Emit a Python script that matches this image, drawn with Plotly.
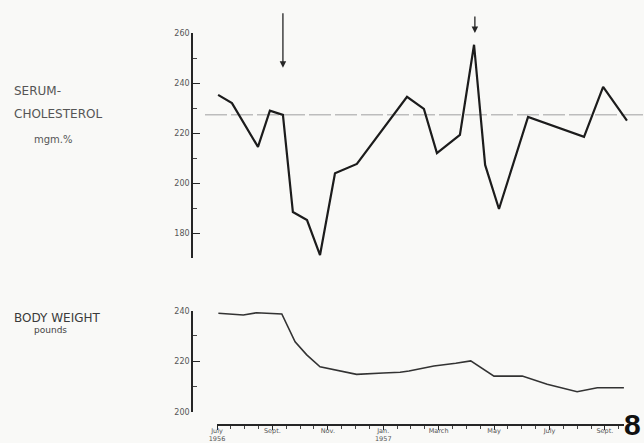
import plotly.graph_objects as go

# ---- data (x = months since start of July 1956) ----
chol_month = [0.04, 0.54, 1.48, 1.91, 2.38, 2.74, 3.25, 3.72, 4.26, 5.05, 6.86,
              7.47, 7.94, 8.77, 9.28, 9.68, 10.18, 11.23, 13.25, 13.94, 14.8]
chol_value = [235.3, 232.0, 214.5, 229.0, 227.3, 188.5, 185.3, 171.3, 204.0, 207.7, 234.5,
              229.7, 212.0, 219.3, 255.3, 207.3, 189.7, 226.5, 218.5, 238.5, 225.0]
chol_reference = 227.3

weight_month = [0.05, 0.53, 0.95, 1.43, 2.34, 2.82, 3.24, 3.72, 4.14, 5.04, 6.0,
                6.61, 6.93, 7.83, 8.62, 9.16, 10.0, 11.02, 11.92, 13.0, 13.73, 14.69]
weight_value = [239.0, 238.7, 238.3, 239.2, 238.7, 227.7, 222.5, 217.8, 216.9, 214.8, 215.3,
                215.6, 216.1, 218.1, 219.2, 220.1, 214.1, 214.1, 210.9, 207.9, 209.5, 209.5]

arrow_months = [2.38, 9.31]
arrow_heads = [246.1, 260.0]
arrow_lengths = [-56, -18]

tick_months = [0, 2, 4, 6, 8, 10, 12, 14]
tick_labels = ["July<br>1956", "Sept.", "Nov.", "Jan.<br>1957", "March", "May", "July", "Sept."]

W, H = 644, 443
L, R, T, B = 193, 14, 33, 19
PW, PH = W - L - R, H - T - B


def px(xp):
    return (xp - L) / PW


def py(yp):
    return (H - B - yp) / PH


XR = [-0.866, 14.91]
INK = "#262626"
TXT = "#555555"
BG = "#f9f9f7"

fig = go.Figure()
fig.add_trace(go.Scatter(x=chol_month, y=chol_value, mode="lines",
                         line=dict(color="#1c1c1c", width=2.2),
                         xaxis="x", yaxis="y", showlegend=False, hoverinfo="skip"))
fig.add_trace(go.Scatter(x=weight_month, y=weight_value, mode="lines",
                         line=dict(color="#333333", width=1.6),
                         xaxis="x2", yaxis="y2", showlegend=False, hoverinfo="skip"))
fig.add_trace(go.Scatter(x=[0], y=[0], mode="markers", marker=dict(opacity=0),
                         xaxis="x3", yaxis="y3", showlegend=False, hoverinfo="skip"))

yax_common = dict(showline=True, linecolor=INK, linewidth=1.5, ticks="inside",
                  ticklen=7, tickwidth=1.2, tickcolor=INK, tickmode="linear", dtick=20,
                  tickfont=dict(family="DejaVu Sans", size=8, color=TXT),
                  showgrid=False, zeroline=False, automargin=False)

fig.update_layout(
    width=W, height=H,
    margin=dict(l=L, r=R, t=T, b=B, autoexpand=False),
    paper_bgcolor=BG, plot_bgcolor=BG,
    xaxis=dict(domain=[0, 1], range=XR, visible=False, anchor="y", automargin=False),
    xaxis2=dict(domain=[0, 1], range=XR, visible=False, anchor="y2", automargin=False),
    xaxis3=dict(domain=[px(217), px(624)], range=[0, 14.69], anchor="y3",
                automargin=False,
                showline=True, linecolor=INK, linewidth=1.5, ticks="outside",
                ticklen=4, tickwidth=1, tickcolor=INK, tickmode="array",
                tickvals=tick_months, ticktext=tick_labels, ticklabelstandoff=-5,
                tickfont=dict(family="DejaVu Sans", size=6.5, color=TXT),
                showgrid=False, zeroline=False,
                minor=dict(ticks="outside", ticklen=3, tickmode="linear", tick0=0,
                           dtick=0.5, tickcolor="#444", showgrid=False)),
    yaxis=dict(domain=[py(258.3), 1.0], range=[170, 260], anchor="x", tick0=180,
               minor=dict(ticks="inside", ticklen=4, tickmode="linear", tick0=170,
                          dtick=10, tickcolor="#444", showgrid=False),
               **yax_common),
    yaxis2=dict(domain=[py(411.7), py(310.7)], range=[200, 240], anchor="x2", tick0=200,
                minor=dict(ticks="inside", ticklen=4, tickmode="linear", tick0=200,
                           dtick=10, tickcolor="#444", showgrid=False),
                **yax_common),
    yaxis3=dict(domain=[0, 0.01], range=[0, 1], visible=False, anchor="x3",
                automargin=False),
)

# light dashed reference line for cholesterol
fig.add_shape(type="line", xref="paper", yref="y", x0=px(205), x1=px(644),
              y0=chol_reference, y1=chol_reference, layer="below",
              line=dict(color="#bdbdbd", width=1.5, dash="22px,4px"))

# arrows
for xm, yh, ln in zip(arrow_months, arrow_heads, arrow_lengths):
    fig.add_annotation(x=xm, y=yh, xref="x", yref="y", text="", showarrow=True,
                       ax=0, ay=ln, axref="pixel", ayref="pixel",
                       arrowhead=2, arrowsize=1, arrowwidth=1.3, arrowcolor=INK,
                       standoff=0)

lab_font = dict(family="DejaVu Sans", size=12, color="#555555")
fig.add_annotation(x=px(12), y=py(91), xref="paper", yref="paper", text="SERUM-",
                   showarrow=False, xanchor="left", yanchor="middle", font=lab_font)
fig.add_annotation(x=px(12), y=py(114), xref="paper", yref="paper", text="CHOLESTEROL",
                   showarrow=False, xanchor="left", yanchor="middle", font=lab_font)
fig.add_annotation(x=px(53), y=py(139), xref="paper", yref="paper", text="mgm.%",
                   showarrow=False, xanchor="center", yanchor="middle",
                   font=dict(family="DejaVu Sans", size=10, color="#555555"))
fig.add_annotation(x=px(12), y=py(318), xref="paper", yref="paper", text="BODY WEIGHT",
                   showarrow=False, xanchor="left", yanchor="middle",
                   font=dict(family="DejaVu Sans", size=12, color="#3a3a3a"))
fig.add_annotation(x=px(50), y=py(330), xref="paper", yref="paper", text="pounds",
                   showarrow=False, xanchor="center", yanchor="middle",
                   font=dict(family="DejaVu Sans", size=9, color="#444444"))
fig.add_annotation(x=px(643), y=py(443), xref="paper", yref="paper", text="<b>8</b>",
                   showarrow=False, xanchor="right", yanchor="bottom",
                   font=dict(family="Liberation Sans Narrow, Liberation Sans", size=30,
                             color="#111111"))

post = (
    "var gd=document.getElementById('{plot_id}');"
    "document.documentElement.style.margin='0';document.body.style.margin='0';"
    "document.documentElement.style.overflow='hidden';document.body.style.overflow='hidden';"
    "gd.style.position='fixed';gd.style.left='0px';gd.style.top='0px';"
)

fig.write_html("out.html", post_script=post, config={"displayModeBar": False})
